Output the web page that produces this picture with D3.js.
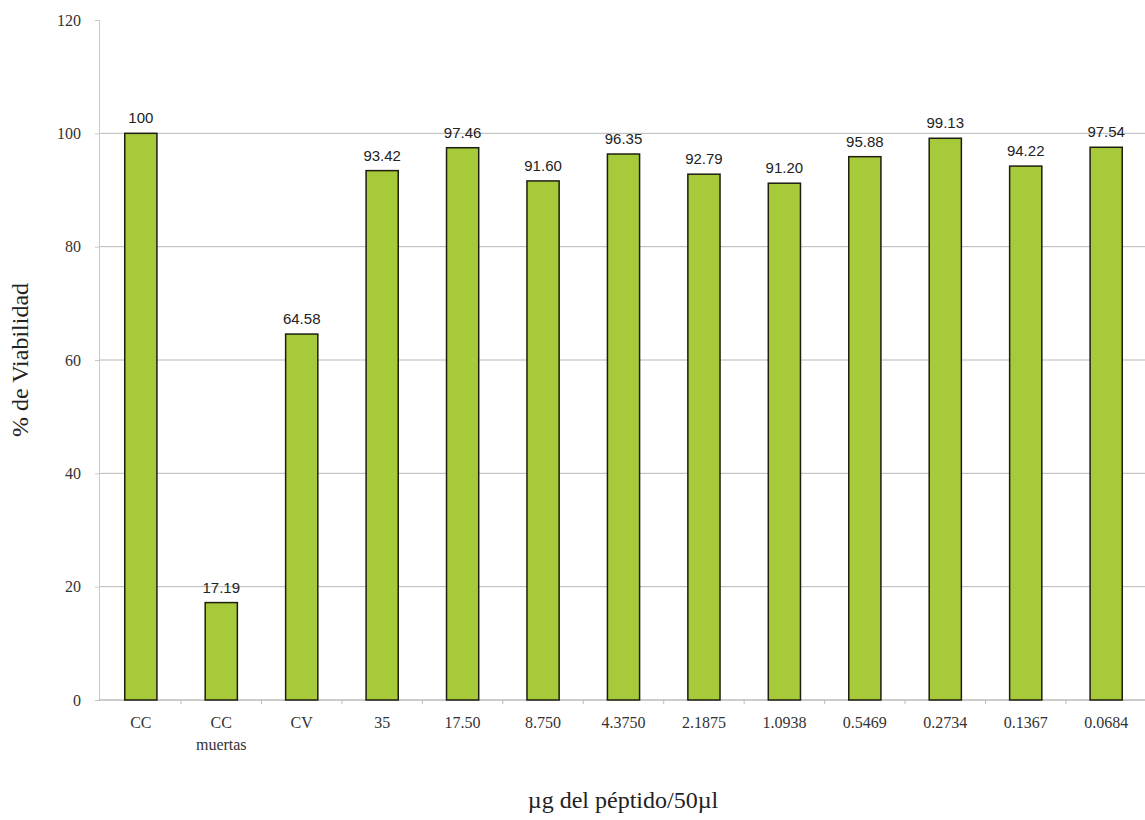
<!DOCTYPE html>
<html>
<head>
<meta charset="utf-8">
<script src="https://cdnjs.cloudflare.com/ajax/libs/d3/7.8.5/d3.min.js"></script>
<style>
    body { margin: 0; background: #fff; }
    .axis text { font-family: "Liberation Serif", "Times New Roman", serif; font-size: 16px; fill: #333; }
    .value-label { font-family: "Liberation Sans", Arial, sans-serif; font-size: 15px; fill: #222; }
    .axis-title { font-family: "Liberation Serif", "Times New Roman", serif; font-size: 24px; fill: #222; }
</style>
</head>
<body>
<div id="chart"></div>
<script>
// categories ("CC muertas" is split over two lines)
let categories = ["CC", "CC muertas", "CV", "35", "17.50", "8.750", "4.3750", "2.1875", "1.0938", "0.5469", "0.2734", "0.1367", "0.0684"];
let viability = [100, 17.19, 64.58, 93.42, 97.46, 91.60, 96.35, 92.79, 91.20, 95.88, 99.13, 94.22, 97.54];
let valueLabels = ["100", "17.19", "64.58", "93.42", "97.46", "91.60", "96.35", "92.79", "91.20", "95.88", "99.13", "94.22", "97.54"];
let yTicks = [0, 20, 40, 60, 80, 100, 120];

let margin = {top: 20, right: -3, bottom: 120, left: 99};
let width = 1145 - margin.left - margin.right;
let height = 820 - margin.top - margin.bottom;

let svg = d3.select("#chart").append("svg")
    .attr("width", 1145)
    .attr("height", 820)
    .append("g")
    .attr("transform", `translate(${margin.left}, ${margin.top})`);

let x = d3.scaleBand()
    .domain(categories)
    .range([0, width])
    .paddingInner(0.6)
    .paddingOuter(0.32);

let y = d3.scaleLinear()
    .domain([0, 120])
    .range([height, 0]);

// gridlines
svg.selectAll(".grid")
    .data(yTicks.filter(d => d > 0 && d < 120))
    .enter().append("line")
    .attr("class", "grid")
    .attr("x1", 0)
    .attr("x2", width)
    .attr("y1", d => y(d))
    .attr("y2", d => y(d))
    .attr("stroke", "#b8b8b8")
    .attr("stroke-width", 1);

// y axis
let yAxis = svg.append("g")
    .attr("class", "axis y-axis")
    .call(d3.axisLeft(y).tickValues(yTicks).tickSize(4).tickPadding(14));
yAxis.select(".domain").attr("stroke", "#c8c8c8");
yAxis.selectAll(".tick line").attr("stroke", "#c8c8c8");

// x axis baseline and ticks between categories
let xAxisG = svg.append("g")
    .attr("class", "axis x-axis")
    .attr("transform", `translate(0, ${height})`);

xAxisG.append("line")
    .attr("x1", 0).attr("x2", width)
    .attr("stroke", "#999");

let step = x.step();
xAxisG.selectAll(".sep")
    .data(categories)
    .enter().append("line")
    .attr("class", "sep")
    .attr("x1", d => x(d) + x.bandwidth() + (step - x.bandwidth()) / 2)
    .attr("x2", d => x(d) + x.bandwidth() + (step - x.bandwidth()) / 2)
    .attr("y1", 0).attr("y2", 4)
    .attr("stroke", "#bbb");

let xLabels = xAxisG.selectAll(".xlab")
    .data(categories)
    .enter().append("text")
    .attr("class", "xlab")
    .attr("text-anchor", "middle")
    .attr("x", d => x(d) + x.bandwidth() / 2)
    .attr("y", 28);

xLabels.each(function(d) {
    let parts = d === "CC muertas" ? ["CC", "muertas"] : [d];
    d3.select(this).selectAll("tspan")
        .data(parts)
        .enter().append("tspan")
        .attr("x", x(d) + x.bandwidth() / 2)
        .attr("dy", (p, i) => i === 0 ? 0 : 22)
        .text(p => p);
});

// bars
svg.selectAll(".bar")
    .data(viability)
    .enter().append("rect")
    .attr("class", "bar")
    .attr("x", (d, i) => x(categories[i]))
    .attr("y", d => y(d))
    .attr("width", x.bandwidth())
    .attr("height", d => height - y(d))
    .attr("fill", "#a6ca3a")
    .attr("stroke", "#1e1e10")
    .attr("stroke-width", 1.5);

// value labels
svg.selectAll(".value-label")
    .data(viability)
    .enter().append("text")
    .attr("class", "value-label")
    .attr("text-anchor", "middle")
    .attr("x", (d, i) => x(categories[i]) + x.bandwidth() / 2)
    .attr("y", d => y(d) - 10)
    .text((d, i) => valueLabels[i]);

// axis titles
svg.append("text")
    .attr("class", "axis-title")
    .attr("text-anchor", "middle")
    .attr("transform", `translate(-71, ${height / 2}) rotate(-90)`)
    .text("% de Viabilidad");

svg.append("text")
    .attr("class", "axis-title")
    .attr("text-anchor", "middle")
    .attr("x", 524)
    .attr("y", height + 108)
    .text("µg del péptido/50µl");
</script>
</body>
</html>
